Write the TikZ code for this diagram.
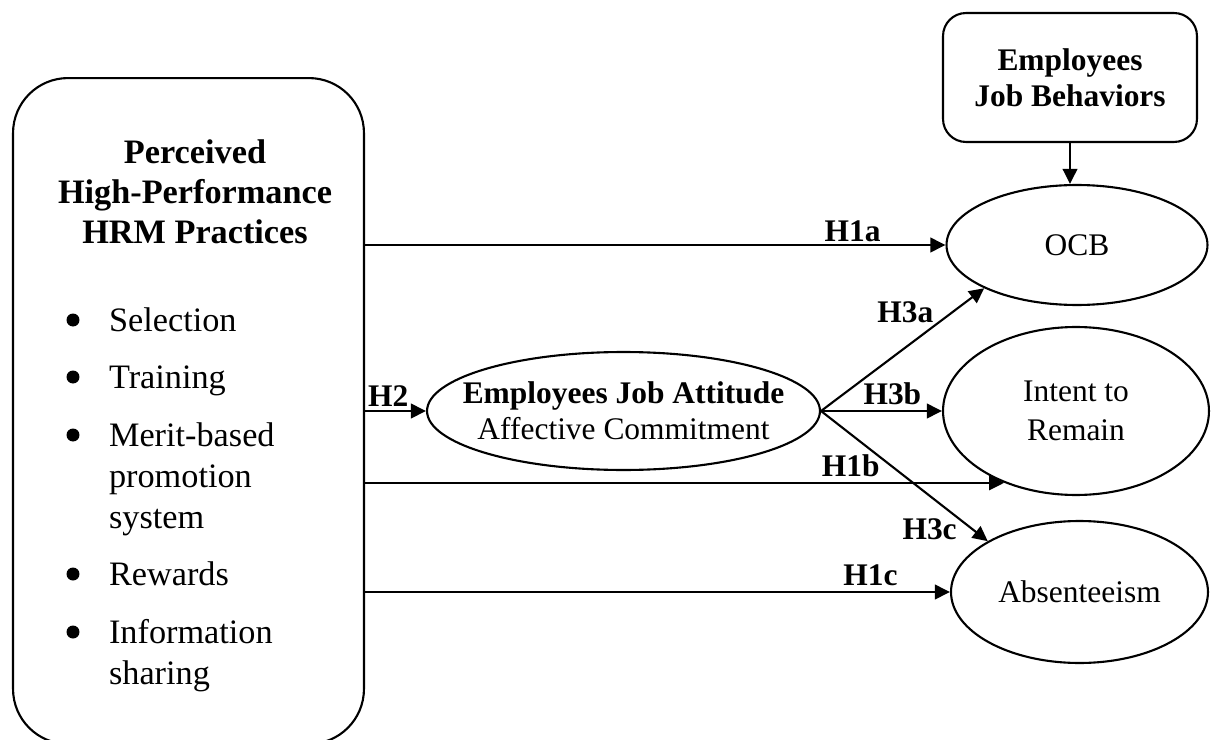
\documentclass[tikz,border=0pt]{standalone}
\usepackage{fontspec}
\setmainfont{Liberation Serif}
\usetikzlibrary{arrows.meta,shapes.geometric,positioning}

\begin{document}
\begin{tikzpicture}[x=0.02cm, y=-0.02cm, line width=1.2pt,
  big/.style={font=\fontsize{19.5}{22.8}\selectfont},
  txt/.style={font=\fontsize{17.9}{20.5}\selectfont, align=center},
  oval/.style={draw, ellipse, inner sep=0pt, txt},
  hyp/.style={font=\fontsize{17.9}{20.5}\selectfont\bfseries},
  link/.style={-{Triangle[length=0.3cm,width=0.29cm]}}]
  \useasboundingbox (0,0) rectangle (1211,740);

  % practices box on the left
  \node[draw, rounded corners=1.1cm, minimum width=7.02cm, minimum height=13.32cm] (hrm) at (188.5,411) {};
  \node[big, font=\fontsize{19.5}{22.8}\selectfont\bfseries, align=center] (title) at (195,192) {Perceived\\High-Performance\\HRM Practices};
  \foreach \y/\t in {331/Selection, 388/Training, 446/Merit-based, 487/promotion, 528/system, 585/Rewards, 643/Information, 684/sharing}
    \node[big, anchor=base west, inner sep=0pt] (item\y) at (108,\y) {\t};
  \foreach \y in {331,388,446,585,643}
    \fill (73,\y-11) circle (0.13cm);

  % outcomes
  \node[draw, rounded corners=0.46cm, minimum width=5.08cm, minimum height=2.58cm, txt, font=\fontsize{17.9}{20.5}\selectfont\bfseries] (jobbeh) at (1070,77.5) {Employees\\Job Behaviors};
  \node[oval, minimum width=5.22cm, minimum height=2.4cm] (ocb) at (1077,245) {OCB};
  \node[oval, minimum width=7.86cm, minimum height=2.36cm] (att) at (623.5,411) {};
  \node[txt] (attlabel) at (att.center) {\textbf{Employees Job Attitude}\\Affective Commitment};
  \node[oval, minimum width=5.32cm, minimum height=3.36cm, font=\fontsize{17.9}{22.4}\selectfont] (intent) at (1076,411) {Intent to\\Remain};
  \node[oval, minimum width=5.14cm, minimum height=2.84cm] (absent) at (1079.5,592) {Absenteeism};

  % hypotheses
  \draw[link] (jobbeh.south) -- (jobbeh.south |- ocb.north);
  \draw[link] (hrm.east |- ocb.west) -- node[hyp, above, pos=0.84, inner sep=1pt] {H1a} (ocb.west);
  \draw[link] (hrm.east |- att.west) -- node[hyp, above, pos=0.38, inner sep=2pt] {H2} (att.west);
  \draw[link] (att.east) -- node[hyp, above left, pos=0.7, inner sep=0.5pt] {H3a} (ocb.205);
  \draw[link] (att.east) -- node[hyp, above, pos=0.59, inner sep=3pt] {H3b} (intent.west);
  \draw[link] (att.east) -- node[hyp, below left, pos=0.82, inner sep=0pt] {H3c} (absent.151);
  \draw[link] (hrm.east |- intent.225) -- node[hyp, above, pos=0.76, inner sep=3pt] {H1b} (intent.225);
  \draw[link] (hrm.east |- absent.west) -- node[hyp, above, pos=0.864, inner sep=3pt] {H1c} (absent.west);
\end{tikzpicture}
\end{document}
